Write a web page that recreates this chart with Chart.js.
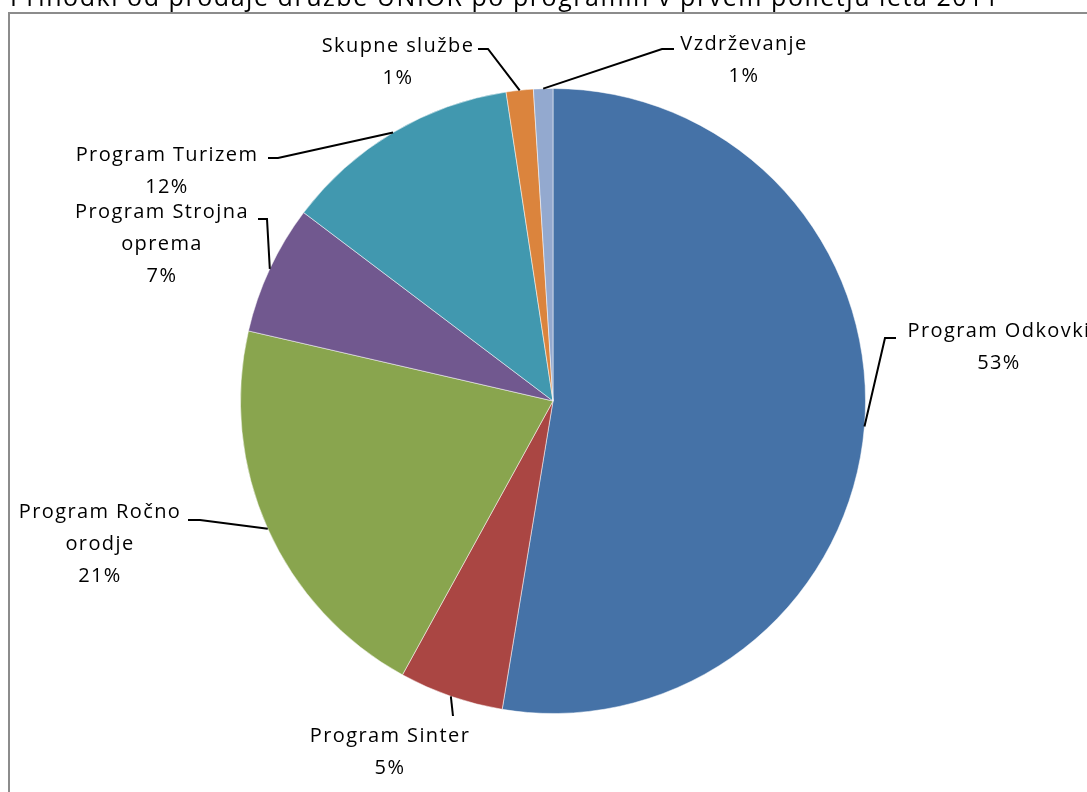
<!DOCTYPE html>
<html>
<head>
<meta charset="utf-8">
<script src="https://cdn.jsdelivr.net/npm/chart.js@4/dist/chart.umd.min.js"></script>
<style>
  html, body { margin: 0; padding: 0; background: #fff; }
  #wrap { width: 1087px; height: 792px; position: relative; }
</style>
</head>
<body>
<div id="wrap"><canvas id="myChart" width="1087" height="792"></canvas></div>
<script>
const title = 'Prihodki od prodaje družbe UNIOR po programih v prvem polletju leta 2011';
const programs = [
	['Program Odkovki'],
	['Program Sinter'],
	['Program Ročno', 'orodje'],
	['Program Strojna', 'oprema'],
	['Program Turizem'],
	['Skupne službe'],
	['Vzdrževanje']
];
const shares = [52.6, 5.4, 20.6, 6.7, 12.3, 1.4, 1.0];
const colors = ['#4572A7', '#AA4643', '#89A54E', '#71588F', '#4198AF', '#DB843D', '#93A9CF'];

// where each label sits: text centre x, first line y, leader stub start x, stub end x, stub y
const labelPlace = [
	[999, 331, 896, 885, 338],
	[390, 736, 453, 453, 716],
	[100, 512, 188, 200, 520],
	[162, 212, 258, 267, 219],
	[167, 155, 268, 278, 158],
	[398, 46, 478, 488, 49],
	[744, 44, 674, 662, 49]
];

var labelPlugin = {
	id: 'pieLabels',
	beforeDraw: function(chart) {
		let c = chart.ctx;
		c.save();
		c.fillStyle = '#fff';
		c.fillRect(0, 0, chart.width, chart.height);
		c.fillStyle = '#000';
		c.font = '25px "Open Sans"';
		c.letterSpacing = '1.55px';
		c.textBaseline = 'alphabetic';
		c.textAlign = 'left';
		c.fillText(title, 10, 6);
		c.letterSpacing = '0px';
		c.strokeStyle = '#8c8c8c';
		c.lineWidth = 2;
		c.strokeRect(9, 13, 1200, 1000);
		c.restore();
	},
	afterDraw: function(chart) {
		let c = chart.ctx;
		let meta = chart.getDatasetMeta(0);
		let total = shares.reduce((a, b) => a + b, 0);
		c.save();
		c.strokeStyle = '#000';
		c.lineWidth = 2;
		c.fillStyle = '#000';
		c.font = '20px "Open Sans"';
		c.letterSpacing = '1.4px';
		c.textAlign = 'center';
		c.textBaseline = 'middle';
		meta.data.forEach(function(arc, i) {
			let p = labelPlace[i];
			let mid = (arc.startAngle + arc.endAngle) / 2;
			let ax = arc.x + Math.cos(mid) * arc.outerRadius;
			let ay = arc.y + Math.sin(mid) * arc.outerRadius;
			c.beginPath();
			if (i === 1) {
				c.moveTo(p[2], p[4]);
				c.lineTo(ax, ay);
			} else {
				c.moveTo(p[2], p[4]);
				c.lineTo(p[3], p[4]);
				c.lineTo(ax, ay);
			}
			c.stroke();
			let lines = programs[i].concat([Math.round(shares[i] / total * 100) + '%']);
			lines.forEach(function(t, k) {
				c.fillText(t, p[0], p[1] + k * 32);
			});
		});
		c.restore();
	}
};

let ctx = document.getElementById('myChart').getContext('2d');
let chart = new Chart(ctx, {
	type: 'pie',
	data: {
		labels: programs.map(p => p.join(' ')),
		datasets: [{
			data: shares,
			backgroundColor: colors,
			borderColor: 'rgba(255,255,255,0.5)',
			borderWidth: 1
		}]
	},
	options: {
		responsive: false,
		animation: false,
		layout: { padding: { top: 88, bottom: 78, left: 240, right: 221 } },
		plugins: {
			legend: { display: false },
			title: { display: false },
			tooltip: { enabled: false }
		}
	},
	plugins: [labelPlugin]
});
</script>
</body>
</html>
